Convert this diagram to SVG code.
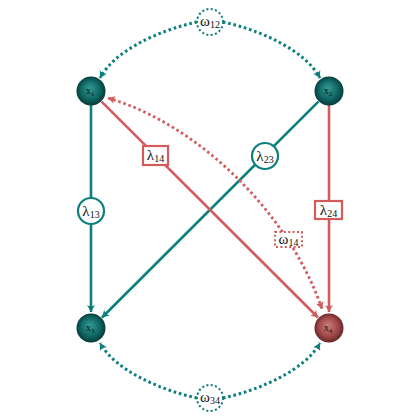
<svg xmlns="http://www.w3.org/2000/svg" width="420" height="420" viewBox="0 0 420 420">
<defs>
<radialGradient id="gTeal" cx="0.5" cy="0.5" r="0.55" fx="0.45" fy="0.4">
<stop offset="0" stop-color="#359a96"/>
<stop offset="0.6" stop-color="#0f6664"/>
<stop offset="1" stop-color="#04302f"/>
</radialGradient>
<radialGradient id="gRed" cx="0.5" cy="0.5" r="0.55" fx="0.45" fy="0.4">
<stop offset="0" stop-color="#cf7d7d"/>
<stop offset="0.6" stop-color="#a04848"/>
<stop offset="1" stop-color="#5a1f1f"/>
</radialGradient>
<marker id="aT" viewBox="-8 -5 10 10" markerWidth="10" markerHeight="10" refX="0" refY="0" orient="auto" markerUnits="userSpaceOnUse">
<path d="M0,0 L-7,-4 Q-4.5,0 -7,4 Z" fill="#0b7f7c"/>
</marker>
<marker id="aR" viewBox="-8 -5 10 10" markerWidth="10" markerHeight="10" refX="0" refY="0" orient="auto" markerUnits="userSpaceOnUse">
<path d="M0,0 L-7,-4 Q-4.5,0 -7,4 Z" fill="#d25c5c"/>
</marker>
<marker id="aRs" viewBox="-8 -5 10 10" markerWidth="10" markerHeight="10" refX="0" refY="0" orient="auto-start-reverse" markerUnits="userSpaceOnUse">
<path d="M0,0 L-7,-4 Q-4.5,0 -7,4 Z" fill="#d25c5c"/>
</marker>
</defs>
<style>
.t{stroke:#0b7f7c;stroke-width:2.6;fill:none}
.r{stroke:#d25c5c;stroke-width:2.6;fill:none}
.td{stroke:#0b7f7c;stroke-width:3;fill:none;stroke-dasharray:2.6 2.8}
.rd{stroke:#d25c5c;stroke-width:2.8;fill:none;stroke-dasharray:2.6 2.8}
.lc{fill:#fff;stroke:#0b7f7c;stroke-width:2.2}
.lr{fill:#fff;stroke:#d25c5c;stroke-width:2.2}
.wc{fill:#fff;stroke:#0b7f7c;stroke-width:2;stroke-dasharray:2 2.4}
.wr{fill:#fff;stroke:#d25c5c;stroke-width:2;stroke-dasharray:2 2.4}
.lab{font-family:"Liberation Serif","DejaVu Serif",serif;font-size:15px;fill:#111;text-anchor:middle}
.sub{font-size:10px}
.nl{font-family:"Liberation Serif","DejaVu Serif",serif;font-size:10.5px;fill:#061616;text-anchor:middle}
.nsub{font-size:6.5px}
</style>
<g id="connectors">
<path class="t" d="M91,105 L91,312" marker-end="url(#aT)"/>
<path class="t" d="M318.4,101.6 L102,317.5" marker-end="url(#aT)"/>
<path class="r" d="M101.6,101.6 L318,317.5" marker-end="url(#aR)"/>
<path class="r" d="M329,105 L329,312" marker-end="url(#aR)"/>
<path class="rd" d="M108,98 C200,125 290,215 322,309" marker-start="url(#aRs)" marker-end="url(#aR)"/>
<path class="td" d="M197,22 C160,30 115,50 100,78" marker-end="url(#aT)"/>
<path class="td" d="M223,22 C260,30 305,50 320,78" marker-end="url(#aT)"/>
<path class="td" d="M197,398 C160,390 115,370 100,343" marker-end="url(#aT)"/>
<path class="td" d="M223,398 C260,390 305,370 320,343" marker-end="url(#aT)"/>
</g>
<g id="lambda13"><circle class="lc" cx="91" cy="211" r="13"/><text class="lab" x="91" y="215.5">λ<tspan class="sub" dy="2">13</tspan></text></g>
<g id="lambda23"><circle class="lc" cx="265" cy="156" r="13"/><text class="lab" x="265" y="160.5">λ<tspan class="sub" dy="2">23</tspan></text></g>
<g id="lambda14"><rect class="lr" x="143" y="146" width="25" height="19"/><text class="lab" x="155.5" y="159.5">λ<tspan class="sub" dy="2">14</tspan></text></g>
<g id="lambda24"><rect class="lr" x="315" y="201" width="27" height="18"/><text class="lab" x="328.5" y="214.5">λ<tspan class="sub" dy="2">24</tspan></text></g>
<g id="omega14"><rect class="wr" x="275" y="232" width="27" height="15"/><text class="lab" x="288.5" y="243.5">ω<tspan class="sub" dy="2">14</tspan></text></g>
<g id="omega12"><circle class="wc" cx="210" cy="22" r="13"/><text class="lab" x="210" y="25.5">ω<tspan class="sub" dy="2">12</tspan></text></g>
<g id="omega34"><circle class="wc" cx="210" cy="398" r="13"/><text class="lab" x="210" y="401.5">ω<tspan class="sub" dy="2">34</tspan></text></g>
<g id="x1"><circle cx="91" cy="91" r="14.5" fill="url(#gTeal)"/><text class="nl" x="90" y="94">x<tspan class="nsub" dy="1.5">1</tspan></text></g>
<g id="x2"><circle cx="329" cy="91" r="14.5" fill="url(#gTeal)"/><text class="nl" x="328" y="94">x<tspan class="nsub" dy="1.5">2</tspan></text></g>
<g id="x3"><circle cx="91" cy="328" r="14.5" fill="url(#gTeal)"/><text class="nl" x="90" y="331">x<tspan class="nsub" dy="1.5">3</tspan></text></g>
<g id="x4"><circle cx="329" cy="328" r="14.5" fill="url(#gRed)"/><text class="nl" x="328" y="331">x<tspan class="nsub" dy="1.5">4</tspan></text></g>
</svg>
